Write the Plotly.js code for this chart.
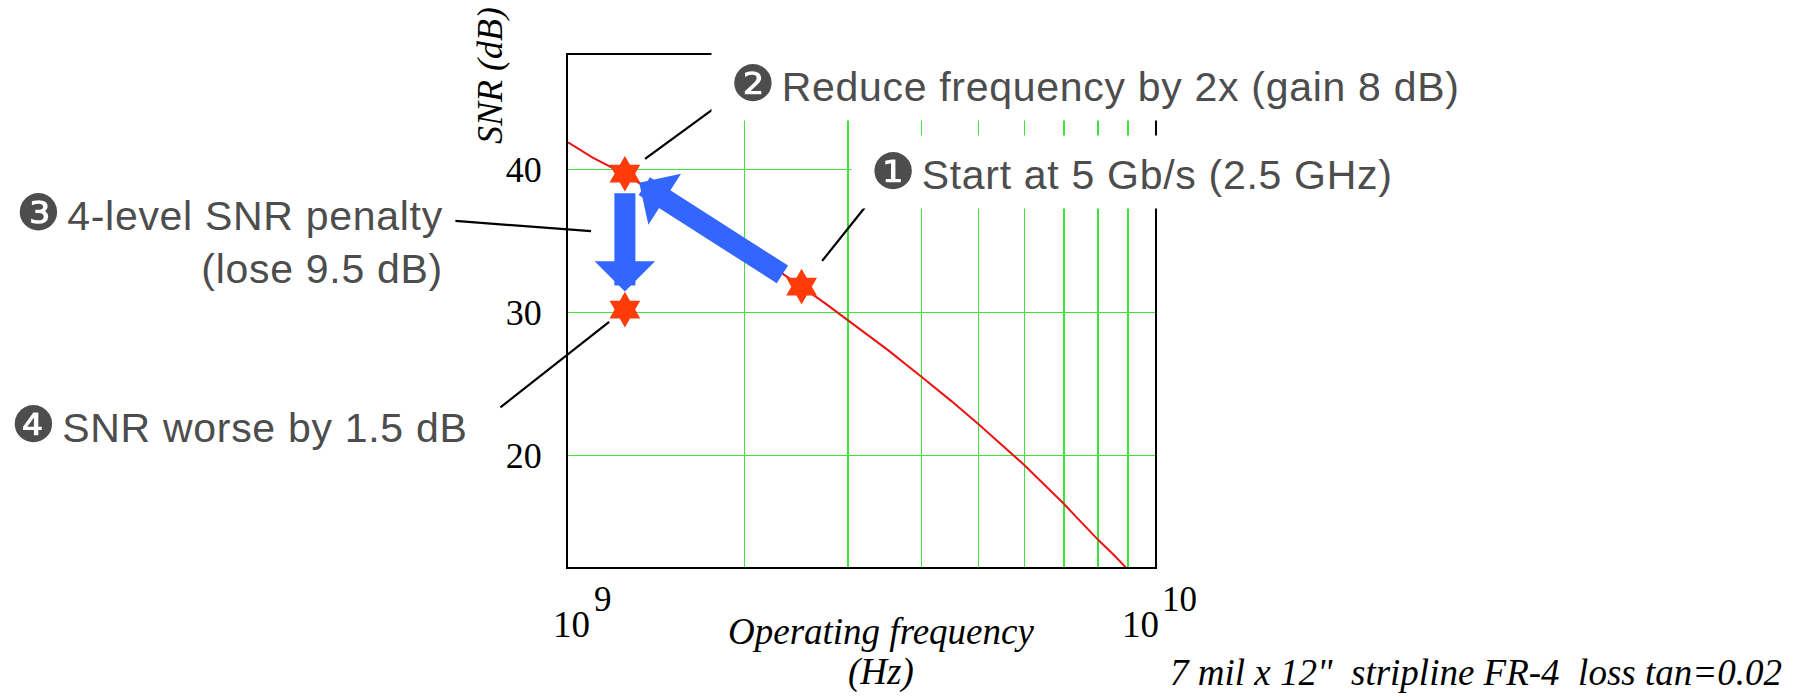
<!DOCTYPE html>
<html><head><meta charset="utf-8">
<script src="https://cdn.plot.ly/plotly-3.0.1.min.js"></script>
<style>html,body{margin:0;padding:0;background:#fff;}#chart{width:1802px;height:697px;}</style>
</head><body><div id="chart"></div>
<script>
// ---- data ----
const FREQ_GHZ = [1.0, 1.1, 1.25, 1.5, 1.75, 2.0, 2.25, 2.5, 2.75, 3.0, 3.5, 4.0, 4.5, 5.0, 5.5, 6.0, 6.5, 7.0, 7.5, 8.0, 8.5, 9.0];
const SNR_DB   = [41.9, 40.85, 39.65, 37.7, 36.0, 34.5, 33.1, 31.8, 30.6, 29.45, 27.4, 25.5, 23.8, 22.2, 20.7, 19.3, 17.9, 16.6, 15.3, 14.1, 13.06, 12.0];
const STAR_FREQ_GHZ = [2.5, 1.25, 1.25];      // start, reduced rate, PAM-4
const STAR_SNR_DB   = [31.8, 39.7, 30.2];
const Y_TICKS = [20, 30, 40];
const Y_TICK_TEXT = ['20', '30', '40'];
const X_TICK_VALS = [1e9, 1e10];
const X_TICK_BASE = ['10', '10'];
const X_TICK_EXP  = ['9', '10'];
const LABEL_1 = 'Start at 5 Gb/s (2.5 GHz)';
const LABEL_2 = 'Reduce frequency by 2x (gain 8 dB)';
const LABEL_3A = '4-level SNR penalty';
const LABEL_3B = '(lose 9.5 dB)';
const LABEL_4 = 'SNR worse by 1.5 dB';
const X_TITLE_1 = 'Operating frequency';
const X_TITLE_2 = '(Hz)';
const Y_TITLE = 'SNR (dB)';
const NOTE = '7 mil x 12"\u00a0\u00a0stripline FR-4\u00a0\u00a0loss tan=0.02';

// ---- layout helpers ----
const W = 1802, H = 697, ML = 568, MR = 647, MT = 55, MB = 130;
const PW = W - ML - MR, PH = H - MT - MB;
const px = v => (v - ML) / PW;
const py = v => (H - MB - v) / PH;
const lx = g => Math.log10(g * 1e9);

const SANS = 'Liberation Sans, Arial, sans-serif';
const SERIF = 'Liberation Serif, Times New Roman, serif';
const GRAY = '#4d4d4d';
const circ = c => `<span style="font-family:'DejaVu Sans';font-size:50px;letter-spacing:-5px">${c}</span> `;
const sp = s => `<span style="letter-spacing:0.7px">${s}</span>`;

const curve = {
  x: FREQ_GHZ.map(g => g * 1e9), y: SNR_DB, type: 'scatter', mode: 'lines',
  line: {color: '#ee1111', width: 2}, hoverinfo: 'skip', showlegend: false
};
const stars = {
  x: STAR_FREQ_GHZ.map(g => g * 1e9), y: STAR_SNR_DB, type: 'scatter', mode: 'markers',
  marker: {symbol: 'hexagram', size: 27, color: '#ff3b0a', line: {width: 0}},
  hoverinfo: 'skip', showlegend: false, cliponaxis: false
};

const ann = [];
// blue arrows
const AS = 0.48;
ann.push({xref:'x', yref:'y', axref:'x', ayref:'y',
  x: lx(STAR_FREQ_GHZ[1]), y: STAR_SNR_DB[1], ax: lx(STAR_FREQ_GHZ[0]), ay: STAR_SNR_DB[0],
  text:'', showarrow:true, arrowhead:1, arrowsize:AS, arrowwidth:21, arrowcolor:'#3366ff',
  standoff:17, startstandoff:21});
ann.push({xref:'x', yref:'y', axref:'x', ayref:'y',
  x: lx(STAR_FREQ_GHZ[2]), y: STAR_SNR_DB[2], ax: lx(STAR_FREQ_GHZ[1]), ay: STAR_SNR_DB[1],
  text:'', showarrow:true, arrowhead:1, arrowsize:AS, arrowwidth:21, arrowcolor:'#3366ff',
  standoff:18, startstandoff:18});
// leader lines
const lead = (x, y, ax, ay, so) => ({xref:'x', yref:'y', x, y, ax, ay, text:'', showarrow:true,
  arrowhead:0, arrowwidth:2.2, arrowcolor:'#000', standoff:so});
ann.push(lead(lx(STAR_FREQ_GHZ[0]), STAR_SNR_DB[0], 67, -84, 33));
ann.push(lead(lx(STAR_FREQ_GHZ[1]), STAR_SNR_DB[1], 101, -74, 25));
ann.push(lead(lx(STAR_FREQ_GHZ[1]), 35.5, -171, -13, 34));
ann.push(lead(lx(STAR_FREQ_GHZ[2]), STAR_SNR_DB[2], -126, 99, 20));
// labels
const lab = {family: SANS, size: 41, color: GRAY};
ann.push({xref:'paper', yref:'paper', x: px(711), y: py(84), xanchor:'left', yanchor:'middle',
  text: '\u00a0' + circ('\u2777') + sp(LABEL_2), showarrow:false, font: lab, bgcolor:'#ffffff', borderpad:7});
ann.push({xref:'paper', yref:'paper', x: px(851), y: py(172), xanchor:'left', yanchor:'middle',
  text: '\u00a0' + circ('\u2776') + sp(LABEL_1), showarrow:false, font: lab, bgcolor:'#ffffff', borderpad:7});
ann.push({xref:'paper', yref:'paper', x: px(445), y: py(238), xanchor:'right', yanchor:'middle', align:'right',
  text: circ('\u2778') + sp(LABEL_3A) + '<br>' + sp(LABEL_3B), showarrow:false, font: lab});
ann.push({xref:'paper', yref:'paper', x: px(9), y: py(425), xanchor:'left', yanchor:'middle',
  text: circ('\u2779') + sp(LABEL_4), showarrow:false, font: lab});
// x tick labels (10^9, 10^10)
const baseShift = [-17, -35], expShift = [24, 5];
X_TICK_VALS.forEach((v, i) => {
  ann.push({xref:'x', yref:'paper', x: Math.log10(v), y: py(624), xanchor:'left', yanchor:'middle',
    xshift: baseShift[i], text: X_TICK_BASE[i], showarrow:false, font:{family:SERIF, size:37, color:'#000'}});
  ann.push({xref:'x', yref:'paper', x: Math.log10(v), y: py(599), xanchor:'left', yanchor:'middle',
    xshift: expShift[i], text: X_TICK_EXP[i], showarrow:false, font:{family:SERIF, size:35, color:'#000'}});
});
// axis titles and note
const it = {family: SERIF, size: 37, color:'#000', style:'italic'};
ann.push({xref:'paper', yref:'paper', x: px(881), y: py(631), xanchor:'center', yanchor:'middle',
  text: X_TITLE_1, showarrow:false, font: it});
ann.push({xref:'paper', yref:'paper', x: px(881), y: py(672), xanchor:'center', yanchor:'middle',
  text: X_TITLE_2, showarrow:false, font: it});
ann.push({xref:'paper', yref:'paper', x: px(490), y: py(76), xanchor:'center', yanchor:'middle',
  textangle:-90, text: Y_TITLE, showarrow:false, font: {family: SERIF, size: 36, color:'#000', style:'italic'}});
ann.push({xref:'paper', yref:'paper', x: px(1784), y: py(672), xanchor:'right', yanchor:'middle',
  text: NOTE, showarrow:false, font: it});

const GRID = '#3be43b';
const layout = {
  width: W, height: H, margin: {l: ML, r: MR, t: MT, b: MB, pad: 0},
  paper_bgcolor: '#fff', plot_bgcolor: '#fff', showlegend: false,
  xaxis: {type:'log', range:[9, 10], dtick:'D1', showticklabels:false, ticks:'',
    showgrid:true, gridcolor:GRID, gridwidth:1.3, zeroline:false,
    showline:true, mirror:true, linecolor:'#000', linewidth:2},
  yaxis: {range:[12.2, 48], tickvals: Y_TICKS, ticktext: Y_TICK_TEXT, ticks:'',
    tickfont:{family:SERIF, size:36, color:'#000'}, ticklabelstandoff: 17,
    showgrid:true, gridcolor:GRID, gridwidth:1.3, zeroline:false,
    showline:true, mirror:true, linecolor:'#000', linewidth:2},
  annotations: ann
};
Plotly.newPlot('chart', [curve, stars], layout, {displayModeBar:false, staticPlot:true});
</script></body></html>
